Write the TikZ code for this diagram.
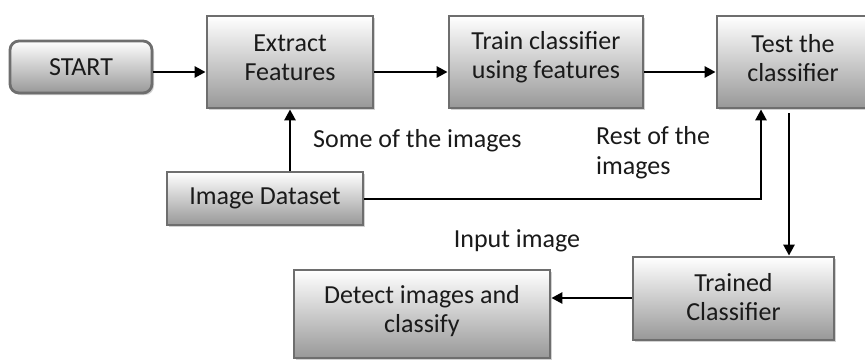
\documentclass[tikz,border=0pt]{standalone}
\usepackage{fontspec}
\setmainfont{Carlito}
\usetikzlibrary{arrows.meta,shadows}
\definecolor{boxline}{HTML}{6E6E6E}
\definecolor{boxlow}{HTML}{989898}
\definecolor{inkc}{HTML}{1A1A1A}
\tikzset{
  procbox/.style={draw=boxline, line width=2.8pt, top color=white, bottom color=boxlow,
    inner sep=0pt, align=center, text=inkc, font=\fontsize{26}{29}\selectfont,
    drop shadow={shadow xshift=2pt, shadow yshift=-2pt, opacity=0.35, fill=gray}},
  startbox/.style={procbox, rounded corners=9pt},
  lbl/.style={text=inkc, font=\fontsize{26}{30}\selectfont, inner sep=0pt},
  flow/.style={line width=2.6pt, draw=black, -{Triangle[length=11pt,width=11pt]}},
  link/.style={line width=2.6pt, draw=black}
}
\begin{document}
\begin{tikzpicture}[x=1pt,y=-1pt]
\clip (0,0) rectangle (865,361);
\useasboundingbox (0,0) rectangle (865,361);
\fill[white] (0,0) rectangle (865,361);

% process boxes (text depth lifts the text a little inside the taller boxes)
\node[startbox, minimum width=142pt, minimum height=52pt] (start) at (81,67) {START};
\node[procbox, minimum width=166pt, minimum height=92pt, text depth=9pt] (extract) at (290,62) {Extract\\Features};
\node[procbox, minimum width=194pt, minimum height=92pt, text depth=14pt] (train) at (546,62) {Train classifier\\using features};
\node[procbox, minimum width=152pt, minimum height=92pt, text depth=9pt] (test) at (793,62) {Test the\\classifier};
\node[procbox, minimum width=196pt, minimum height=53pt] (data) at (265,198.5) {Image Dataset};
\node[procbox, minimum width=201pt, minimum height=83pt, text depth=3pt] (trained) at (733.5,298.5) {Trained\\Classifier};
\node[procbox, minimum width=256pt, minimum height=88pt, text depth=11pt] (detect) at (422,314) {Detect images and\\classify};

% free labels
\node[lbl, anchor=west] (some) at (313,141) {Some of the images};
\node[lbl, anchor=north west, align=left] (rest) at (596,126) {Rest of the\\images};
\node[lbl] (input) at (517,241) {Input image};

% main flow
\draw[flow] (start.east |- 0,72) -- (extract.west |- 0,72);
\draw[flow] (extract.east |- 0,72) -- (train.west |- 0,72);
\draw[flow] (train.east |- 0,72) -- (test.west |- 0,72);
\draw[flow] (data.north -| 290,0) -- (extract.south);
\coordinate (turn) at (761,199);
\draw[flow] (data.east |- 0,199) -- (turn) -- (turn |- test.south);
\draw[flow] ([yshift=-4pt]test.south -| 789,0) -- (trained.north -| 789,0);
\draw[flow] (trained.west |- 0,298) -- (detect.east |- 0,298);
\end{tikzpicture}
\end{document}
